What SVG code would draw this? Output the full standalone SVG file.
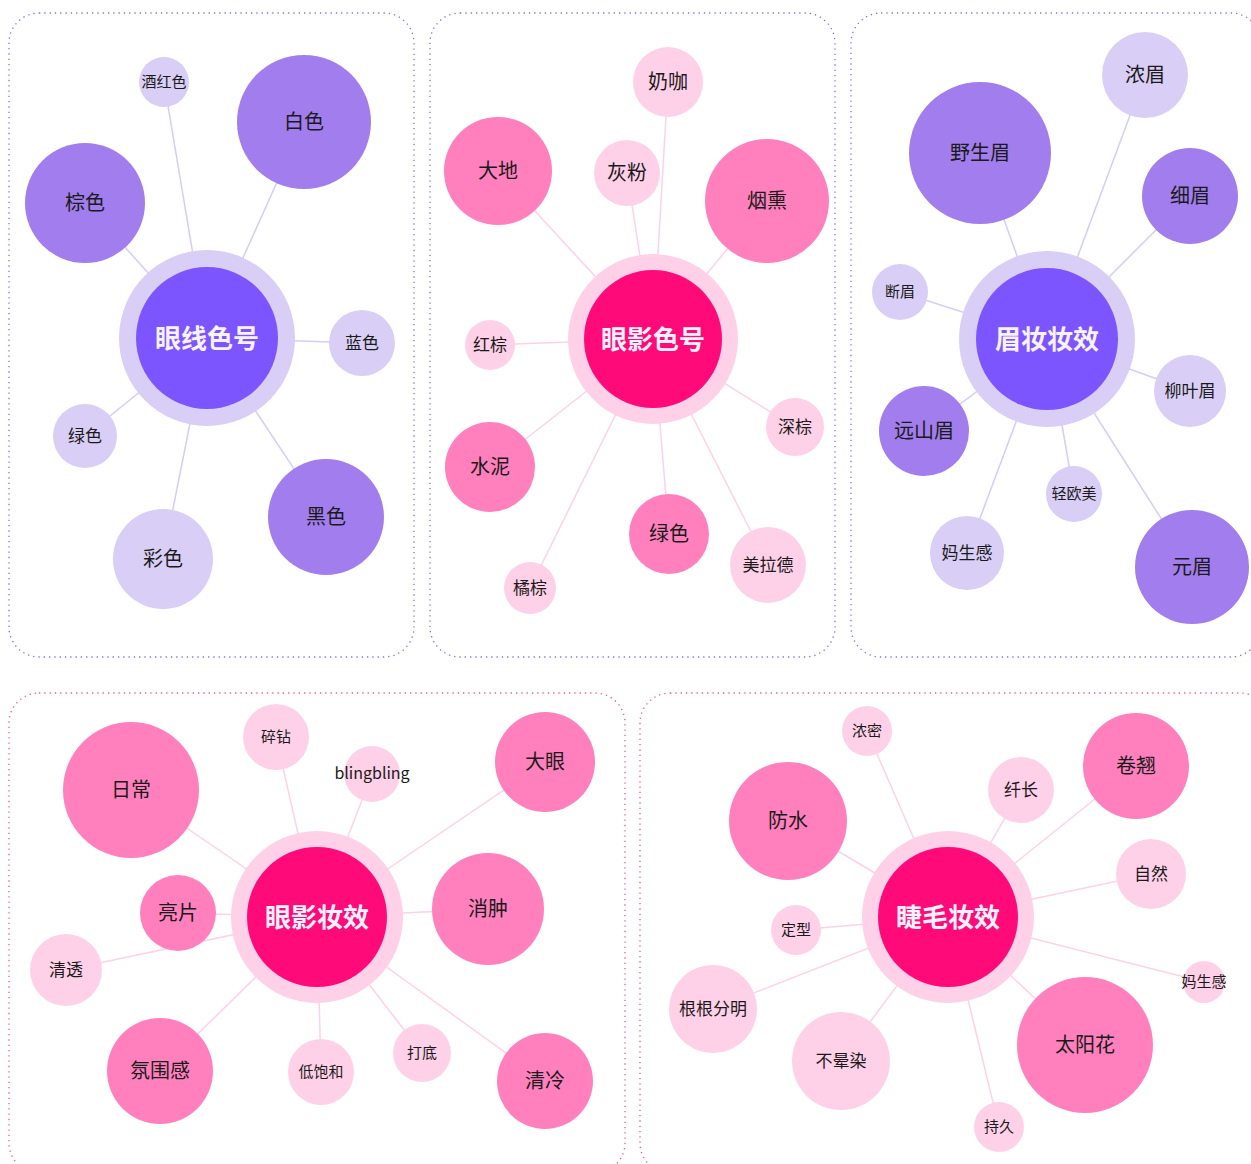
<svg xmlns="http://www.w3.org/2000/svg" width="1251" height="1164" viewBox="0 0 1251 1164">
<style>
text{font-family:"Noto Sans CJK SC","Noto Sans",sans-serif;text-anchor:middle;dominant-baseline:central;fill:#1a1a1a;transform:translateY(-2px)}
.panelP{fill:#fff;stroke:#7f6ff7;stroke-width:1.3;stroke-dasharray:1.3 4}
.panelR{fill:#fff;stroke:#ff4f98;stroke-width:1.3;stroke-dasharray:1.3 4}
.eP line{stroke:#d5ccf7;stroke-width:1.5}
.eR line{stroke:#ffd1e8;stroke-width:1.5}
.pl{fill:#d9cef6}.pm{fill:#a27ded}.pc{fill:#7c55fe}
.rl{fill:#ffd1e8}.rm{fill:#ff80bd}.rc{fill:#ff0a78}
.ct{fill:#f6f2ff;font-size:26px;font-weight:bold}
.t20{font-size:20px}.t17{font-size:17px}.t15{font-size:15px}
</style>
<rect width="1251" height="1164" fill="#fff"/>
<g id="panels">
<rect class="panelP" x="9" y="13" width="405" height="644" rx="30"/>
<rect class="panelP" x="430" y="13" width="405" height="644" rx="30"/>
<rect class="panelP" x="851" y="13" width="410" height="644" rx="30"/>
<rect class="panelR" x="9" y="693" width="616" height="480" rx="30"/>
<rect class="panelR" x="640" y="693" width="630" height="480" rx="30"/>
</g>
<g id="connectors">
<g class="eP">
<line x1="207" y1="338" x2="164" y2="82"/>
<line x1="207" y1="338" x2="304" y2="122"/>
<line x1="207" y1="338" x2="85" y2="203"/>
<line x1="207" y1="338" x2="362" y2="343"/>
<line x1="207" y1="338" x2="85" y2="436"/>
<line x1="207" y1="338" x2="326" y2="517"/>
<line x1="207" y1="338" x2="163" y2="559"/>
<line x1="1047" y1="339" x2="1145" y2="75"/>
<line x1="1047" y1="339" x2="980" y2="153"/>
<line x1="1047" y1="339" x2="1190" y2="196"/>
<line x1="1047" y1="339" x2="900" y2="292"/>
<line x1="1047" y1="339" x2="1190" y2="391"/>
<line x1="1047" y1="339" x2="924" y2="431"/>
<line x1="1047" y1="339" x2="1074" y2="494"/>
<line x1="1047" y1="339" x2="967" y2="553"/>
<line x1="1047" y1="339" x2="1192" y2="567"/>
</g>
<g class="eR">
<line x1="653" y1="339" x2="668" y2="82"/>
<line x1="653" y1="339" x2="498" y2="171"/>
<line x1="653" y1="339" x2="627" y2="173"/>
<line x1="653" y1="339" x2="767" y2="201"/>
<line x1="653" y1="339" x2="490" y2="345"/>
<line x1="653" y1="339" x2="795" y2="427"/>
<line x1="653" y1="339" x2="490" y2="467"/>
<line x1="653" y1="339" x2="669" y2="534"/>
<line x1="653" y1="339" x2="768" y2="565"/>
<line x1="653" y1="339" x2="530" y2="588"/>
<line x1="317" y1="917" x2="131" y2="790"/>
<line x1="317" y1="917" x2="276" y2="737"/>
<line x1="317" y1="917" x2="372" y2="774"/>
<line x1="317" y1="917" x2="545" y2="762"/>
<line x1="317" y1="917" x2="178" y2="913"/>
<line x1="317" y1="917" x2="488" y2="909"/>
<line x1="317" y1="917" x2="66" y2="970"/>
<line x1="317" y1="917" x2="160" y2="1071"/>
<line x1="317" y1="917" x2="321" y2="1072"/>
<line x1="317" y1="917" x2="422" y2="1053"/>
<line x1="317" y1="917" x2="545" y2="1081"/>
<line x1="948" y1="917" x2="867" y2="731"/>
<line x1="948" y1="917" x2="788" y2="821"/>
<line x1="948" y1="917" x2="1021" y2="790"/>
<line x1="948" y1="917" x2="1136" y2="766"/>
<line x1="948" y1="917" x2="1151" y2="874"/>
<line x1="948" y1="917" x2="796" y2="930"/>
<line x1="948" y1="917" x2="1204" y2="982"/>
<line x1="948" y1="917" x2="713" y2="1009"/>
<line x1="948" y1="917" x2="841" y2="1061"/>
<line x1="948" y1="917" x2="1085" y2="1045"/>
<line x1="948" y1="917" x2="999" y2="1127"/>
</g>
</g>
<!-- Panel 1 -->
<g id="n-yanxian"><circle class="pl" cx="207" cy="338" r="88"/><circle class="pc" cx="207" cy="338" r="71"/><text class="ct" x="207" y="338">眼线色号</text></g>
<g id="n-jiuhong"><circle class="pl" cx="164" cy="82" r="25"/><text class="t15" x="164" y="82">酒红色</text></g>
<g id="n-baise"><circle class="pm" cx="304" cy="122" r="67"/><text class="t20" x="304" y="122">白色</text></g>
<g id="n-zongse"><circle class="pm" cx="85" cy="203" r="60"/><text class="t20" x="85" y="203">棕色</text></g>
<g id="n-lanse"><circle class="pl" cx="362" cy="343" r="33"/><text class="t17" x="362" y="343">蓝色</text></g>
<g id="n-lvse1"><circle class="pl" cx="85" cy="436" r="32"/><text class="t17" x="85" y="436">绿色</text></g>
<g id="n-heise"><circle class="pm" cx="326" cy="517" r="58"/><text class="t20" x="326" y="517">黑色</text></g>
<g id="n-caise"><circle class="pl" cx="163" cy="559" r="50"/><text class="t20" x="163" y="559">彩色</text></g>
<!-- Panel 2 -->
<g id="n-yanying"><circle class="rl" cx="653" cy="339" r="85"/><circle class="rc" cx="653" cy="339" r="69"/><text class="ct" x="653" y="339">眼影色号</text></g>
<g id="n-naika"><circle class="rl" cx="668" cy="82" r="35"/><text class="t20" x="668" y="82">奶咖</text></g>
<g id="n-dadi"><circle class="rm" cx="498" cy="171" r="54"/><text class="t20" x="498" y="171">大地</text></g>
<g id="n-huifen"><circle class="rl" cx="627" cy="173" r="33"/><text class="t20" x="627" y="173">灰粉</text></g>
<g id="n-yanxun"><circle class="rm" cx="767" cy="201" r="62"/><text class="t20" x="767" y="201">烟熏</text></g>
<g id="n-hongzong"><circle class="rl" cx="490" cy="345" r="25"/><text class="t17" x="490" y="345">红棕</text></g>
<g id="n-shenzong"><circle class="rl" cx="795" cy="427" r="29"/><text class="t17" x="795" y="427">深棕</text></g>
<g id="n-shuini"><circle class="rm" cx="490" cy="467" r="45"/><text class="t20" x="490" y="467">水泥</text></g>
<g id="n-lvse2"><circle class="rm" cx="669" cy="534" r="40"/><text class="t20" x="669" y="534">绿色</text></g>
<g id="n-meilade"><circle class="rl" cx="768" cy="565" r="38"/><text class="t17" x="768" y="565">美拉德</text></g>
<g id="n-juzong"><circle class="rl" cx="530" cy="588" r="26"/><text class="t17" x="530" y="588">橘棕</text></g>
<!-- Panel 3 -->
<g id="n-meizhuang"><circle class="pl" cx="1047" cy="339" r="88"/><circle class="pc" cx="1047" cy="339" r="71"/><text class="ct" x="1047" y="339">眉妆妆效</text></g>
<g id="n-nongmei"><circle class="pl" cx="1145" cy="75" r="43"/><text class="t20" x="1145" y="75">浓眉</text></g>
<g id="n-yeshengmei"><circle class="pm" cx="980" cy="153" r="71"/><text class="t20" x="980" y="153">野生眉</text></g>
<g id="n-ximei"><circle class="pm" cx="1190" cy="196" r="48"/><text class="t20" x="1190" y="196">细眉</text></g>
<g id="n-duanmei"><circle class="pl" cx="900" cy="292" r="28"/><text class="t15" x="900" y="292">断眉</text></g>
<g id="n-liuyemei"><circle class="pl" cx="1190" cy="391" r="36"/><text class="t17" x="1190" y="391">柳叶眉</text></g>
<g id="n-yuanshanmei"><circle class="pm" cx="924" cy="431" r="45"/><text class="t20" x="924" y="431">远山眉</text></g>
<g id="n-qingoumei"><circle class="pl" cx="1074" cy="494" r="28"/><text class="t15" x="1074" y="494">轻欧美</text></g>
<g id="n-mashenggan1"><circle class="pl" cx="967" cy="553" r="37"/><text class="t17" x="967" y="553">妈生感</text></g>
<g id="n-yuanmei"><circle class="pm" cx="1192" cy="567" r="57"/><text class="t20" x="1192" y="567">元眉</text></g>
<!-- Panel 4 -->
<g id="n-yanyingzx"><circle class="rl" cx="317" cy="917" r="86"/><circle class="rc" cx="317" cy="917" r="70"/><text class="ct" x="317" y="917">眼影妆效</text></g>
<g id="n-richang"><circle class="rm" cx="131" cy="790" r="68"/><text class="t20" x="131" y="790">日常</text></g>
<g id="n-suizuan"><circle class="rl" cx="276" cy="737" r="33"/><text class="t15" x="276" y="737">碎钻</text></g>
<g id="n-blingbling"><circle class="rl" cx="372" cy="774" r="28"/><text class="t15" x="372" y="774" style="font-size:16px">blingbling</text></g>
<g id="n-dayan"><circle class="rm" cx="545" cy="762" r="50"/><text class="t20" x="545" y="762">大眼</text></g>
<g id="n-liangpian"><circle class="rm" cx="178" cy="913" r="38"/><text class="t20" x="178" y="913">亮片</text></g>
<g id="n-xiaozhong"><circle class="rm" cx="488" cy="909" r="56"/><text class="t20" x="488" y="909">消肿</text></g>
<g id="n-qingtou"><circle class="rl" cx="66" cy="970" r="36"/><text class="t17" x="66" y="970">清透</text></g>
<g id="n-fenweigan"><circle class="rm" cx="160" cy="1071" r="53"/><text class="t20" x="160" y="1071">氛围感</text></g>
<g id="n-dibaohe"><circle class="rl" cx="321" cy="1072" r="33"/><text class="t15" x="321" y="1072">低饱和</text></g>
<g id="n-dadi2"><circle class="rl" cx="422" cy="1053" r="29"/><text class="t15" x="422" y="1053">打底</text></g>
<g id="n-qingleng"><circle class="rm" cx="545" cy="1081" r="48"/><text class="t20" x="545" y="1081">清冷</text></g>
<!-- Panel 5 -->
<g id="n-jiemao"><circle class="rl" cx="948" cy="917" r="86"/><circle class="rc" cx="948" cy="917" r="70"/><text class="ct" x="948" y="917">睫毛妆效</text></g>
<g id="n-nongmi"><circle class="rl" cx="867" cy="731" r="25"/><text class="t15" x="867" y="731">浓密</text></g>
<g id="n-fangshui"><circle class="rm" cx="788" cy="821" r="59"/><text class="t20" x="788" y="821">防水</text></g>
<g id="n-xianchang"><circle class="rl" cx="1021" cy="790" r="33"/><text class="t17" x="1021" y="790">纤长</text></g>
<g id="n-juanqiao"><circle class="rm" cx="1136" cy="766" r="53"/><text class="t20" x="1136" y="766">卷翘</text></g>
<g id="n-ziran"><circle class="rl" cx="1151" cy="874" r="35"/><text class="t17" x="1151" y="874">自然</text></g>
<g id="n-dingxing"><circle class="rl" cx="796" cy="930" r="25"/><text class="t15" x="796" y="930">定型</text></g>
<g id="n-mashenggan2"><circle class="rl" cx="1204" cy="982" r="21"/><text class="t15" x="1204" y="982">妈生感</text></g>
<g id="n-genfen"><circle class="rl" cx="713" cy="1009" r="44"/><text class="t17" x="713" y="1009">根根分明</text></g>
<g id="n-buyunran"><circle class="rl" cx="841" cy="1061" r="49"/><text class="t17" x="841" y="1061">不晕染</text></g>
<g id="n-taiyanghua"><circle class="rm" cx="1085" cy="1045" r="68"/><text class="t20" x="1085" y="1045">太阳花</text></g>
<g id="n-chijiu"><circle class="rl" cx="999" cy="1127" r="25"/><text class="t15" x="999" y="1127">持久</text></g>
</svg>
